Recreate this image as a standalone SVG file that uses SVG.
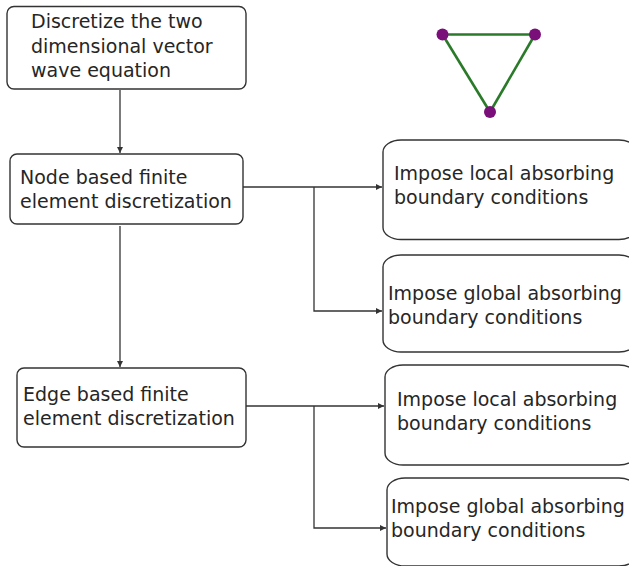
<svg xmlns="http://www.w3.org/2000/svg" width="629" height="566" viewBox="0 0 629 566">
<defs>
<style>
.box{fill:#ffffff;stroke:#333333;stroke-width:1.4}
.t{font-family:"DejaVu Sans",sans-serif;font-size:19px;fill:#262626}
.c{fill:none;stroke:#333333;stroke-width:1.3}
.g{stroke:#2a7a2a;stroke-width:2.6}
.d{fill:#7a0f7a}
</style>
<marker id="ah" markerUnits="userSpaceOnUse" markerWidth="8" markerHeight="8" refX="6" refY="3" orient="auto">
<path d="M0,0 L6,3 L0,6 z" fill="#333333"/>
</marker>
</defs>
<rect width="629" height="566" fill="#ffffff"/>
<g id="triangle">
<line class="g" x1="442.5" y1="34.5" x2="535" y2="34.5"/>
<line class="g" x1="442.5" y1="34.5" x2="490" y2="112"/>
<line class="g" x1="535" y1="34.5" x2="490" y2="112"/>
<circle class="d" cx="442.5" cy="34.5" r="6"/>
<circle class="d" cx="535" cy="34.5" r="6"/>
<circle class="d" cx="490" cy="112" r="6"/>
</g>
<g id="connectors">
<line class="c" x1="120" y1="90" x2="120" y2="153" marker-end="url(#ah)"/>
<line class="c" x1="120" y1="226" x2="120" y2="367" marker-end="url(#ah)"/>
<line class="c" x1="243" y1="187" x2="382" y2="187" marker-end="url(#ah)"/>
<polyline class="c" points="314,187 314,311 382,311" marker-end="url(#ah)"/>
<line class="c" x1="246" y1="406" x2="384" y2="406" marker-end="url(#ah)"/>
<polyline class="c" points="314,406 314,528 386,528" marker-end="url(#ah)"/>
</g>
<g id="n1">
<rect class="box" x="7" y="6.5" width="239" height="82.5" rx="7"/>
<text class="t" x="31" y="28">Discretize the two</text>
<text class="t" x="31" y="52.5">dimensional vector</text>
<text class="t" x="31" y="77">wave equation</text>
</g>
<g id="n2">
<rect class="box" x="10" y="154" width="233" height="70" rx="7"/>
<text class="t" x="20" y="184">Node based finite</text>
<text class="t" x="20" y="208">element discretization</text>
</g>
<g id="n3">
<rect class="box" x="17" y="368" width="229" height="79" rx="7"/>
<text class="t" x="23" y="401">Edge based finite</text>
<text class="t" x="23" y="425">element discretization</text>
</g>
<g id="r1">
<rect class="box" x="383" y="140" width="254" height="99.5" rx="18" ry="12"/>
<text class="t" x="394" y="180">Impose local absorbing</text>
<text class="t" x="394" y="204">boundary conditions</text>
</g>
<g id="r2">
<rect class="box" x="383" y="255" width="254" height="97" rx="18" ry="12"/>
<text class="t" x="388" y="300">Impose global absorbing</text>
<text class="t" x="388" y="324">boundary conditions</text>
</g>
<g id="r3">
<rect class="box" x="385" y="365" width="252" height="100" rx="18" ry="12"/>
<text class="t" x="397" y="406">Impose local absorbing</text>
<text class="t" x="397" y="430">boundary conditions</text>
</g>
<g id="r4">
<rect class="box" x="387" y="478" width="250" height="88" rx="18" ry="12"/>
<text class="t" x="391" y="513">Impose global absorbing</text>
<text class="t" x="391" y="537">boundary conditions</text>
</g>
</svg>
